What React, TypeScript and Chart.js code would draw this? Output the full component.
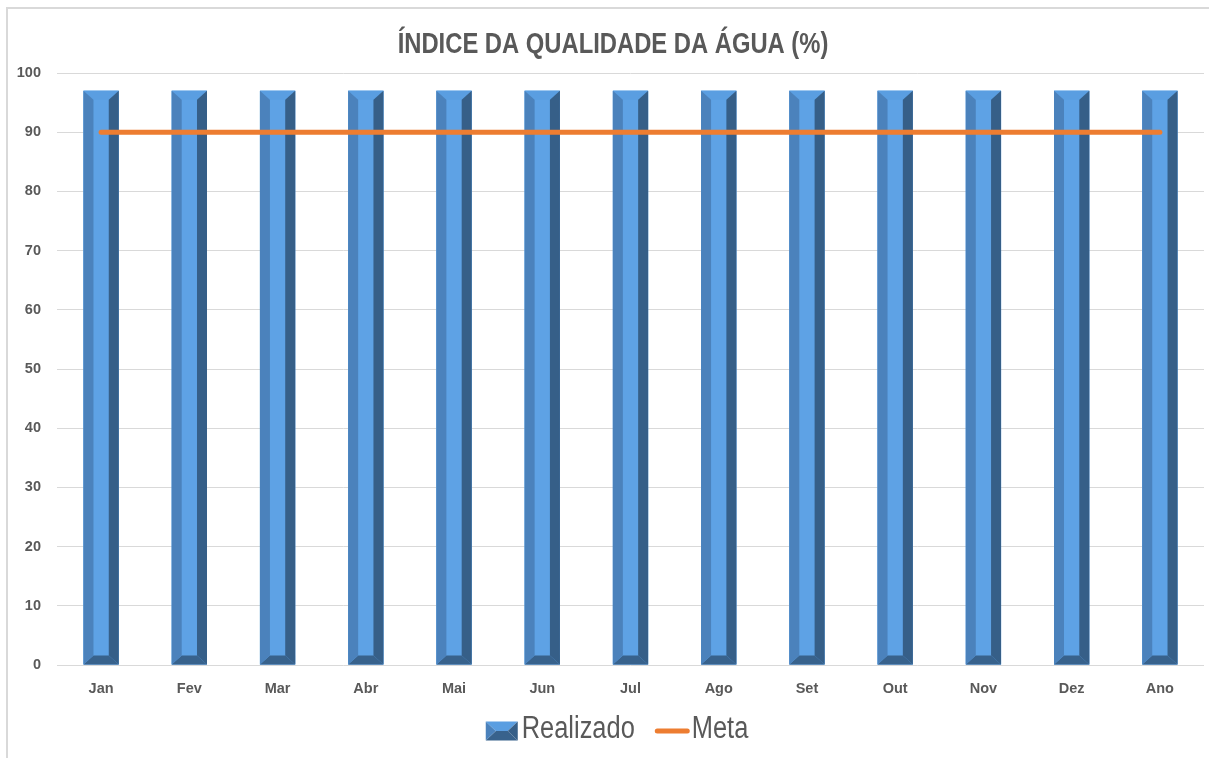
import React, { useEffect, useRef } from "react";
import { Chart, registerables } from "chart.js";

Chart.register(...registerables);

const categories = ["Jan", "Fev", "Mar", "Abr", "Mai", "Jun", "Jul", "Ago", "Set", "Out", "Nov", "Dez", "Ano"];
const realizado = [97, 97, 97, 97, 97, 97, 97, 97, 97, 97, 97, 97, 97];
const meta = [90, 90, 90, 90, 90, 90, 90, 90, 90, 90, 90, 90, 90];
const yMin = 0;
const yMax = 100;
const yStep = 10;
const titleText = "ÍNDICE DA QUALIDADE DA ÁGUA (%)";
const seriesNames = ["Realizado", "Meta"];

const SANS = "'Liberation Sans', Arial, sans-serif";
const NARROW_SCALE = 0.82;
const TEXT = "#595959";
const C_FRONT = "#5EA2E5";
const C_TOP = "#5A9EE1";
const C_LEFT = "#4B82BC";
const C_RIGHT = "#365F88";
const C_BOTTOM = "#38628C";
const C_META = "#ED7D31";

function poly(ctx: CanvasRenderingContext2D, pts: number[][], color: string) {
  ctx.beginPath();
  ctx.moveTo(pts[0][0], pts[0][1]);
  for (let i = 1; i < pts.length; i++) ctx.lineTo(pts[i][0], pts[i][1]);
  ctx.closePath();
  ctx.fillStyle = color;
  ctx.fill();
}

function narrowText(ctx: CanvasRenderingContext2D, text: string, x: number, y: number) {
  ctx.save();
  ctx.translate(x, y);
  ctx.scale(NARROW_SCALE, 1);
  ctx.fillText(text, 0, 0);
  ctx.restore();
}

const bevelPlugin = {
  id: "bevel",
  afterDatasetDraw(chart: any, args: any) {
    if (args.index !== 0) return;
    const m = chart.getDatasetMeta(0);
    const ctx: CanvasRenderingContext2D = chart.ctx;
    ctx.save();
    m.data.forEach((el: any) => {
      const p = el.getProps(["x", "y", "base", "width"], true);
      const L = p.x - p.width / 2;
      const R = p.x + p.width / 2;
      const T = Math.min(p.y, p.base);
      const B = Math.max(p.y, p.base);
      const bx = 10;
      const by = 9;
      poly(ctx, [[L, T], [R, T], [R, B], [L, B]], C_FRONT);
      poly(ctx, [[L, T], [R, T], [R - bx, T + by], [L + bx, T + by]], C_TOP);
      poly(ctx, [[L, B], [R, B], [R - bx, B - by], [L + bx, B - by]], C_BOTTOM);
      poly(ctx, [[L, T], [L + bx, T + by], [L + bx, B - by], [L, B]], C_LEFT);
      poly(ctx, [[R, T], [R - bx, T + by], [R - bx, B - by], [R, B]], C_RIGHT);
    });
    ctx.restore();
  },
};

const textPlugin = {
  id: "titleLegend",
  afterDraw(chart: any) {
    const ctx: CanvasRenderingContext2D = chart.ctx;
    const area = chart.chartArea;
    ctx.save();
    ctx.fillStyle = TEXT;
    ctx.textBaseline = "middle";

    // title
    ctx.font = `bold 29px ${SANS}`;
    ctx.textAlign = "center";
    narrowText(ctx, titleText, 613, area.top - 28);

    // legend
    ctx.font = `31px ${SANS}`;
    ctx.textAlign = "left";
    const w1 = ctx.measureText(seriesNames[0]).width * NARROW_SCALE;
    const w2 = ctx.measureText(seriesNames[1]).width * NARROW_SCALE;
    const iconW = 32, iconH = 19, lineW = 35;
    const total = iconW + 4 + w1 + 20 + lineW + 2 + w2;
    let x = 617 - total / 2;
    const cy = area.bottom + 66;

    const t = cy - iconH / 2;
    const bx = 10, my = iconH / 2;
    poly(ctx, [[x, t], [x + iconW, t], [x + iconW - bx, t + my], [x + bx, t + my]], C_TOP);
    poly(ctx, [[x, t + iconH], [x + iconW, t + iconH], [x + iconW - bx, t + my], [x + bx, t + my]], C_BOTTOM);
    poly(ctx, [[x, t], [x + bx, t + my], [x, t + iconH]], C_LEFT);
    poly(ctx, [[x + iconW, t], [x + iconW - bx, t + my], [x + iconW, t + iconH]], C_RIGHT);
    x += iconW + 4;
    ctx.fillStyle = TEXT;
    narrowText(ctx, seriesNames[0], x, cy - 2);
    x += w1 + 20;

    ctx.strokeStyle = C_META;
    ctx.lineWidth = 5;
    ctx.lineCap = "round";
    ctx.beginPath();
    ctx.moveTo(x + 2.5, cy);
    ctx.lineTo(x + lineW - 2.5, cy);
    ctx.stroke();
    x += lineW + 2;
    ctx.fillStyle = TEXT;
    narrowText(ctx, seriesNames[1], x, cy - 2);

    ctx.restore();
  },
};

export default function App() {
  const ref = useRef<HTMLCanvasElement | null>(null);

  useEffect(() => {
    document.body.style.margin = "0";
    const canvas = ref.current!;
    const chart = new Chart(canvas, {
      type: "bar",
      data: {
        labels: categories,
        datasets: [
          {
            type: "bar",
            label: seriesNames[0],
            data: realizado,
            backgroundColor: C_FRONT,
            borderWidth: 0,
            barPercentage: 0.4,
            categoryPercentage: 1,
            order: 1,
          } as any,
          {
            type: "line",
            label: seriesNames[1],
            data: meta,
            borderColor: C_META,
            borderWidth: 5,
            borderCapStyle: "round",
            pointRadius: 0,
            fill: false,
            order: 0,
          } as any,
        ],
      },
      options: {
        responsive: false,
        animation: false,
        devicePixelRatio: 1,
        layout: { padding: { left: 0, right: 5, top: 73, bottom: 52 } },
        plugins: {
          tooltip: { enabled: false },
          title: { display: false },
          legend: { display: false },
        },
        scales: {
          x: {
            grid: { display: false },
            border: { display: false },
            ticks: {
              color: TEXT,
              font: { family: SANS, size: 14.5, weight: "bold" },
              padding: 7,
            },
            afterFit: (s: any) => {
              s.height = 41;
            },
          },
          y: {
            min: yMin,
            max: yMax,
            grid: { color: "#D9D9D9", lineWidth: 1, drawTicks: false },
            border: { display: false },
            ticks: {
              stepSize: yStep,
              color: TEXT,
              font: { family: SANS, size: 14.5, weight: "bold" },
              padding: 16,
            },
            afterFit: (s: any) => {
              s.width = 57;
            },
          },
        },
      },
      plugins: [bevelPlugin, textPlugin],
    } as any);
    return () => chart.destroy();
  }, []);

  return (
    <div style={{ position: "absolute", left: 0, top: 0, width: 1209, height: 758, background: "#fff", overflow: "hidden" }}>
      <div
        style={{
          position: "absolute",
          left: 6,
          top: 7,
          width: 1220,
          height: 770,
          borderLeft: "2px solid #D9D9D9",
          borderTop: "2px solid #D9D9D9",
        }}
      />
      <canvas ref={ref} width={1209} height={758} style={{ position: "absolute", left: 0, top: 0 }} />
    </div>
  );
}
